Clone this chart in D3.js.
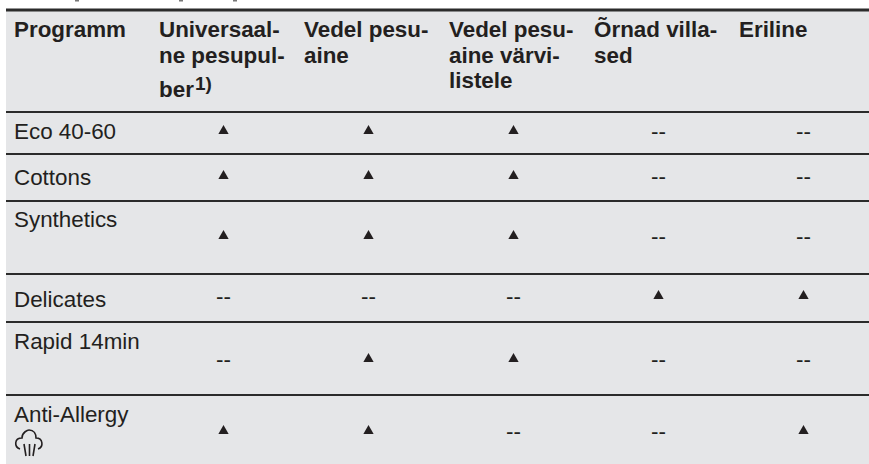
<!DOCTYPE html>
<html>
<head>
<meta charset="utf-8">
<script src="https://cdn.jsdelivr.net/npm/d3@7"></script>
<style>
  html, body { margin: 0; padding: 0; background: #fff; overflow: hidden; }
  text { font-family: "Liberation Sans", Arial, sans-serif; fill: #231f20; }
</style>
</head>
<body>
<div id="graph"></div>
<script>
const programs = ["Eco 40-60", "Cottons", "Synthetics", "Delicates", "Rapid 14min", "Anti-Allergy"];
const columns = ["Programm", "Universaal", "Vedel", "VedelVarvi", "Ornad", "Eriline"];
const headerLines = [
  ["Programm"],
  ["Universaal-", "ne pesupul-", "ber"],
  ["Vedel pesu-", "aine"],
  ["Vedel pesu-", "aine värvi-", "listele"],
  ["Õrnad villa-", "sed"],
  ["Eriline"]
];
// 1 = triangle, 0 = "--"
const universaal = [1, 1, 1, 0, 0, 1];
const vedel = [1, 1, 1, 0, 1, 1];
const vedelVarvi = [1, 1, 1, 0, 1, 0];
const ornad = [0, 0, 0, 1, 0, 0];
const eriline = [0, 0, 0, 1, 0, 1];
const seriesValues = [universaal, vedel, vedelVarvi, ornad, eriline];

const width = 869, height = 464;
const fontSize = 22.4;
const ruleY = [112, 154, 201, 274, 322, 395];
const markY = [131, 176, 236, 296, 359, 431];
const labelY = [139, 185, 227, 307, 349, 422];
// bottoms of the cut-off title's descenders, along the top edge
const titleStubs = [77, 181, 235];

const svg = d3.select("#graph").append("svg")
  .attr("width", width).attr("height", height).style("display", "block");

const x = d3.scaleBand().domain(columns).range([6, 876]);

svg.selectAll(".stub").data(titleStubs).enter().append("rect")
  .attr("class", "stub")
  .attr("x", d => d - 2).attr("y", 0)
  .attr("width", 4).attr("height", 1.5)
  .attr("fill", "#777");

// grey table panel
svg.append("rect")
  .attr("x", 6).attr("y", 10)
  .attr("width", width).attr("height", height)
  .attr("fill", "#e5e6e8");

// rules
svg.append("line").attr("x1", 6).attr("x2", width).attr("y1", 10).attr("y2", 10)
  .attr("stroke", "#2b2b2b").attr("stroke-width", 3);
svg.selectAll(".rule").data(ruleY).enter().append("line")
  .attr("class", "rule")
  .attr("x1", 6).attr("x2", width)
  .attr("y1", d => d).attr("y2", d => d)
  .attr("stroke", "#2b2b2b").attr("stroke-width", 1.8);

// header
svg.selectAll(".head").data(headerLines).enter().append("text")
  .attr("class", "head")
  .attr("font-weight", "bold").attr("font-size", fontSize)
  .each(function (lines, i) {
    d3.select(this).selectAll("tspan").data(lines).enter().append("tspan")
      .attr("x", x(columns[i]) + 8)
      .attr("y", (d, j) => (d === "ber" ? 97 : 37 + j * 25.5))
      .text(d => d);
  });
svg.append("text")
  .attr("x", 195).attr("y", 90)
  .attr("font-weight", "bold").attr("font-size", 19)
  .text("1)");

// program names
svg.selectAll(".prog").data(programs).enter().append("text")
  .attr("class", "prog")
  .attr("x", x(columns[0]) + 8)
  .attr("y", (d, i) => labelY[i])
  .attr("font-size", fontSize)
  .text(d => d);

// anti-allergy steam icon
const icon = svg.append("g")
  .attr("transform", "translate(14,429)")
  .attr("fill", "none").attr("stroke", "#231f20").attr("stroke-width", 1.6);
icon.append("path").attr("d", "M6,20 C0,18 0,9 8,9 C8,3 14,1 15,1 C20,1 22,5 22,9 C29,9 30,18 24,20");
icon.append("path").attr("d", "M10,15 L12,27 M15.5,15 L15.5,27 M21,15 L19,27");

// cells
const triangle = d3.symbol().type(d3.symbolTriangle).size(46);
seriesValues.forEach((values, s) => {
  const col = columns[s + 1];
  const cx = x(col) + x.bandwidth() / 2;
  const g = svg.append("g");
  g.selectAll("path").data(values.map((v, i) => ({ v, i })).filter(d => d.v === 1)).enter().append("path")
    .attr("d", triangle)
    .attr("transform", d => "translate(" + cx + "," + markY[d.i] + ")")
    .attr("fill", "#231f20");
  g.selectAll("text").data(values.map((v, i) => ({ v, i })).filter(d => d.v === 0)).enter().append("text")
    .attr("x", cx)
    .attr("y", d => markY[d.i] + 8)
    .attr("text-anchor", "middle")
    .attr("font-size", fontSize)
    .text("--");
});
</script>
</body>
</html>
